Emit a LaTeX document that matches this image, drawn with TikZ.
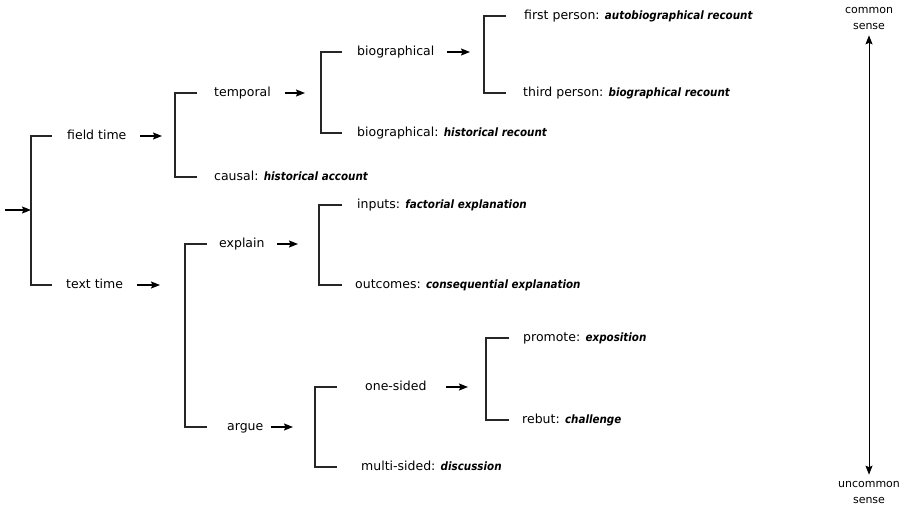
\documentclass[tikz,border=0pt]{standalone}
\usepackage{fontspec}
\setmainfont{DejaVu Sans}
\newfontfamily\termfont{DejaVu Sans Condensed Bold Oblique}
\usepackage{tikz}
\usetikzlibrary{arrows.meta,positioning,calc}
\tikzset{>={Stealth[length=9pt,width=7pt,inset=1.5pt]}}
\tikzset{
  lbl/.style={anchor=west, inner sep=0pt, font=\fontsize{12.5}{14}\selectfont,
    text height=9pt, text depth=2.5pt},
  side/.style={inner sep=0pt, align=center, font=\fontsize{11}{16}\selectfont},
  brak/.style={line width=1.2pt, draw=black!85},
  flow/.style={->, line width=1.2pt}
}
\newcommand{\term}[1]{{\fontsize{11.5}{14}\termfont #1}}

\begin{document}
\begin{tikzpicture}[x=1pt, y=-1pt]
\useasboundingbox (0,0) rectangle (912,510);

% Primer nivel
\node[lbl] (field) at (67,136) {field time};
\node[lbl] (text) at (66,285) {text time};

% Rama field time
\node[lbl] (temporal) at (214,93) {temporal};
\node[lbl] (causal) at (214,177) {causal: \term{historical account}};
\node[lbl] (biog) at (357,52) {biographical};
\node[lbl] (histrec) at (357,133) {biographical: \term{historical recount}};
\node[lbl] (first) at (524,16) {first person: \term{autobiographical recount}};
\node[lbl] (third) at (523,93) {third person: \term{biographical recount}};

% Rama text time
\node[lbl] (explain) at (219,244) {explain};
\node[lbl] (argue) at (227,427) {argue};
\node[lbl] (inputs) at (357,205) {inputs: \term{factorial explanation}};
\node[lbl] (outcomes) at (355,285) {outcomes: \term{consequential explanation}};
\node[lbl] (onesided) at (365,387) {one-sided};
\node[lbl] (multi) at (361,467) {multi-sided: \term{discussion}};
\node[lbl] (promote) at (523,338) {promote: \term{exposition}};
\node[lbl] (rebut) at (522,420) {rebut: \term{challenge}};

% Eje de la derecha
\node[side] (common) at (869,19) {common\\sense};
\node[side] (uncommon) at (869,492) {uncommon\\sense};
\draw[flow, <->, line width=1pt] ([yshift=-5pt]common.south) -- ([yshift=6pt]uncommon.north);

% Entrada
\coordinate (start) at (5,210);
\coordinate (root) at (31,210);
\draw[flow] (start) -- (root);

% Corchetes: lomo / fin del trazo / hijo de arriba / hijo de abajo
\foreach \sx/\tx/\top/\bot in {31/52/field/text, 175/197/temporal/causal,
    321/342/biog/histrec, 484/506/first/third, 185/207/explain/argue,
    319/342/inputs/outcomes, 315/337/onesided/multi, 486/509/promote/rebut}
  \draw[brak] (\tx,0 |- \top.west) -- (\sx,0 |- \top.west)
    -- (\sx,0 |- \bot.west) -- (\tx,0 |- \bot.west);

% Flechas hacia cada corchete
\foreach \src/\a/\b in {field/140/162, text/137/160, temporal/285/305,
    biog/447/470, explain/277/298, argue/271/293, onesided/446/468}
  \draw[flow] (\a,0 |- \src.west) -- (\b,0 |- \src.west);

\end{tikzpicture}
\end{document}
